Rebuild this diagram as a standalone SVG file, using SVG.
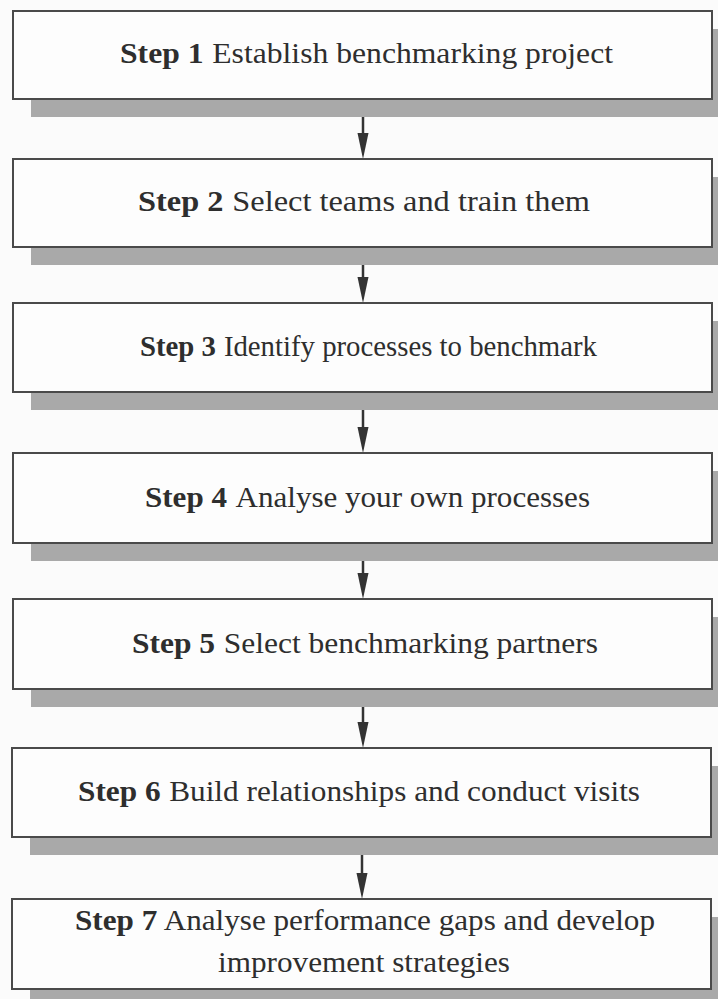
<svg xmlns="http://www.w3.org/2000/svg" width="718" height="999" viewBox="0 0 718 999">
<defs>
<style>
.bg{fill:#fbfbfb}
.shadow{fill:#a9a9a9}
.box{fill:#fdfdfd;stroke:#4a4a4a;stroke-width:2}
.t{font-family:"Liberation Serif","DejaVu Serif",serif;font-size:29px;fill:#2e2e2e}
.b{font-weight:bold}
.conn{stroke:#333;stroke-width:2.5;fill:none}
.head{fill:#333}
</style>
</defs>
<rect class="bg" x="0" y="0" width="718" height="999"/>
<g id="connectors">
<line class="conn" x1="363" y1="99" x2="363" y2="140"/><polygon class="head" points="357.5,133 368.5,133 363,159"/>
<line class="conn" x1="363" y1="247" x2="363" y2="284"/><polygon class="head" points="357.5,277 368.5,277 363,303"/>
<line class="conn" x1="363" y1="392" x2="363" y2="434"/><polygon class="head" points="357.5,427 368.5,427 363,453"/>
<line class="conn" x1="363" y1="543" x2="363" y2="580"/><polygon class="head" points="357.5,573 368.5,573 363,599"/>
<line class="conn" x1="363" y1="689" x2="363" y2="729"/><polygon class="head" points="357.5,722 368.5,722 363,748"/>
<line class="conn" x1="362" y1="837" x2="362" y2="880"/><polygon class="head" points="356.5,873 367.5,873 362,899"/>
</g>
<g id="step1">
<rect class="shadow" x="31" y="29" width="699" height="88"/>
<rect class="box" x="13" y="11" width="699" height="88"/>
<text class="t" x="120" y="63" textLength="493" lengthAdjust="spacingAndGlyphs"><tspan class="b">Step 1</tspan><tspan dx="8">Establish benchmarking project</tspan></text>
</g>
<g id="step2">
<rect class="shadow" x="31" y="177" width="699" height="88"/>
<rect class="box" x="13" y="159" width="699" height="88"/>
<text class="t" x="138" y="211" textLength="452" lengthAdjust="spacingAndGlyphs"><tspan class="b">Step 2</tspan><tspan dx="8">Select teams and train them</tspan></text>
</g>
<g id="step3">
<rect class="shadow" x="31" y="321" width="699" height="89"/>
<rect class="box" x="13" y="303" width="699" height="89"/>
<text class="t" x="140" y="356" textLength="457" lengthAdjust="spacingAndGlyphs"><tspan class="b">Step 3</tspan><tspan dx="8">Identify processes to benchmark</tspan></text>
</g>
<g id="step4">
<rect class="shadow" x="31" y="471" width="699" height="90"/>
<rect class="box" x="13" y="453" width="699" height="90"/>
<text class="t" x="145" y="507" textLength="445" lengthAdjust="spacingAndGlyphs"><tspan class="b">Step 4</tspan><tspan dx="8">Analyse your own processes</tspan></text>
</g>
<g id="step5">
<rect class="shadow" x="31" y="617" width="699" height="90"/>
<rect class="box" x="13" y="599" width="699" height="90"/>
<text class="t" x="132" y="653" textLength="466" lengthAdjust="spacingAndGlyphs"><tspan class="b">Step 5</tspan><tspan dx="8">Select benchmarking partners</tspan></text>
</g>
<g id="step6">
<rect class="shadow" x="30" y="766" width="699" height="89"/>
<rect class="box" x="12" y="748" width="699" height="89"/>
<text class="t" x="78" y="801" textLength="562" lengthAdjust="spacingAndGlyphs"><tspan class="b">Step 6</tspan><tspan dx="8">Build relationships and conduct visits</tspan></text>
</g>
<g id="step7">
<rect class="shadow" x="30" y="917" width="699" height="91"/>
<rect class="box" x="12" y="899" width="699" height="90"/>
<text class="t" x="75" y="930" textLength="580" lengthAdjust="spacingAndGlyphs"><tspan class="b">Step 7</tspan><tspan dx="6">Analyse performance gaps and develop</tspan></text>
<text class="t" x="218" y="972" textLength="292" lengthAdjust="spacingAndGlyphs">improvement strategies</text>
</g>
</svg>
